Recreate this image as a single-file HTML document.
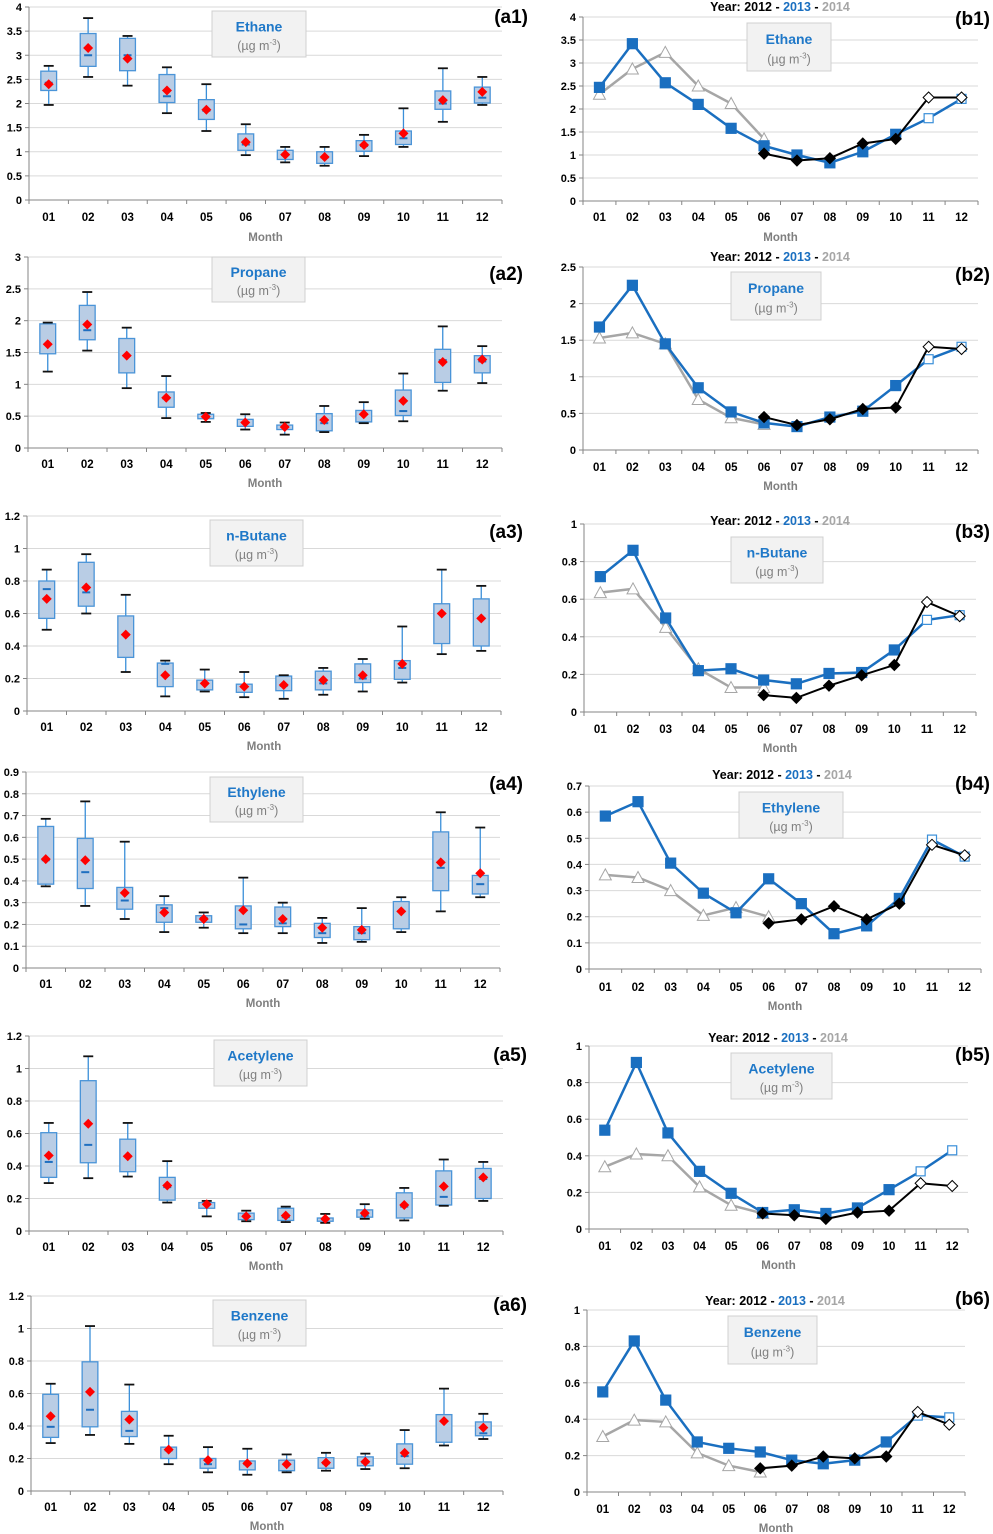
<!DOCTYPE html>
<html><head><meta charset="utf-8">
<style>
html,body{margin:0;padding:0;background:#fff;}
svg{display:block;font-family:"Liberation Sans",Arial,sans-serif;}
</style></head>
<body>
<svg id="fig" width="993" height="1534" viewBox="0 0 993 1534" xmlns="http://www.w3.org/2000/svg"></svg>
<script>
const months = ["01","02","03","04","05","06","07","08","09","10","11","12"];
// box data: [whiskerLow, q1, median, q3, whiskerHigh, mean]
const a1Box = [[1.97,2.27,2.43,2.67,2.78,2.4],[2.55,2.77,3.0,3.45,3.77,3.15],[2.37,2.68,3.0,3.35,3.4,2.93],[1.8,2.02,2.15,2.6,2.75,2.27],[1.43,1.67,1.85,2.08,2.4,1.87],[0.93,1.03,1.15,1.37,1.57,1.2],[0.78,0.84,0.93,1.03,1.1,0.94],[0.71,0.76,0.88,1.0,1.1,0.89],[0.91,1.01,1.12,1.23,1.35,1.14],[1.1,1.15,1.28,1.43,1.9,1.38],[1.62,1.88,2.0,2.26,2.73,2.07],[1.97,2.01,2.12,2.34,2.55,2.24]];
const a2Box = [[1.2,1.48,1.63,1.95,1.97,1.63],[1.53,1.7,1.85,2.24,2.45,1.94],[0.94,1.18,1.45,1.72,1.89,1.45],[0.47,0.64,0.78,0.88,1.13,0.79],[0.41,0.46,0.5,0.53,0.55,0.49],[0.29,0.34,0.4,0.45,0.53,0.4],[0.21,0.29,0.33,0.36,0.4,0.33],[0.25,0.27,0.39,0.54,0.66,0.44],[0.39,0.41,0.53,0.59,0.72,0.53],[0.42,0.51,0.58,0.91,1.17,0.74],[0.9,1.03,1.38,1.55,1.91,1.35],[1.02,1.18,1.36,1.45,1.6,1.39]];
const a3Box = [[0.5,0.57,0.75,0.8,0.87,0.69],[0.6,0.645,0.73,0.915,0.965,0.76],[0.24,0.33,0.47,0.585,0.715,0.47],[0.09,0.15,0.29,0.295,0.31,0.22],[0.12,0.13,0.17,0.19,0.255,0.17],[0.085,0.115,0.15,0.165,0.24,0.15],[0.075,0.125,0.155,0.215,0.22,0.16],[0.1,0.13,0.17,0.245,0.265,0.19],[0.12,0.175,0.2,0.29,0.32,0.22],[0.175,0.195,0.265,0.31,0.52,0.29],[0.35,0.415,0.6,0.66,0.87,0.6],[0.37,0.4,0.57,0.69,0.77,0.57]];
const a4Box = [[0.375,0.385,0.495,0.65,0.685,0.5],[0.285,0.365,0.44,0.595,0.765,0.495],[0.225,0.27,0.31,0.37,0.58,0.345],[0.165,0.21,0.275,0.29,0.33,0.255],[0.185,0.21,0.23,0.24,0.255,0.225],[0.16,0.18,0.2,0.285,0.415,0.265],[0.16,0.19,0.205,0.28,0.3,0.225],[0.115,0.14,0.16,0.205,0.23,0.185],[0.12,0.13,0.16,0.19,0.275,0.175],[0.165,0.18,0.26,0.305,0.325,0.26],[0.26,0.355,0.46,0.625,0.715,0.485],[0.325,0.34,0.385,0.425,0.645,0.435]];
const a5Box = [[0.295,0.33,0.425,0.605,0.665,0.465],[0.325,0.42,0.53,0.925,1.075,0.66],[0.335,0.365,0.46,0.565,0.665,0.46],[0.175,0.19,0.27,0.33,0.43,0.28],[0.09,0.14,0.165,0.175,0.185,0.165],[0.06,0.07,0.095,0.11,0.125,0.09],[0.055,0.065,0.085,0.14,0.15,0.095],[0.05,0.06,0.075,0.08,0.105,0.075],[0.075,0.085,0.095,0.13,0.165,0.11],[0.065,0.08,0.15,0.235,0.265,0.16],[0.155,0.16,0.21,0.37,0.44,0.275],[0.185,0.2,0.32,0.385,0.425,0.33]];
const a6Box = [[0.295,0.33,0.395,0.595,0.66,0.46],[0.345,0.395,0.5,0.795,1.015,0.61],[0.29,0.335,0.37,0.49,0.655,0.44],[0.165,0.2,0.25,0.27,0.34,0.255],[0.115,0.14,0.165,0.2,0.27,0.19],[0.1,0.13,0.165,0.185,0.26,0.17],[0.115,0.125,0.165,0.19,0.225,0.165],[0.125,0.14,0.17,0.205,0.235,0.175],[0.135,0.155,0.175,0.21,0.23,0.18],[0.14,0.165,0.215,0.29,0.375,0.235],[0.28,0.3,0.43,0.47,0.63,0.43],[0.32,0.34,0.355,0.425,0.475,0.39]];
// yearly series (null = no data)
const b1Y2013 = [2.47,3.42,2.57,2.1,1.58,1.2,1.0,0.83,1.07,1.45,1.8,2.22];
const b1Y2014 = [2.32,2.87,3.23,2.5,2.12,1.35,null,null,null,null,null,null];
const b1Y2012 = [null,null,null,null,null,1.03,0.88,0.93,1.25,1.35,2.25,2.25];
const b2Y2013 = [1.68,2.25,1.45,0.85,0.52,0.37,0.32,0.45,0.53,0.88,1.24,1.41];
const b2Y2014 = [1.53,1.6,1.45,0.69,0.44,0.35,null,null,null,null,null,null];
const b2Y2012 = [null,null,null,null,null,0.45,0.34,0.42,0.56,0.58,1.41,1.38];
const b3Y2013 = [0.72,0.86,0.5,0.22,0.23,0.17,0.15,0.205,0.21,0.33,0.49,0.515];
const b3Y2014 = [0.635,0.655,0.45,0.23,0.13,0.13,null,null,null,null,null,null];
const b3Y2012 = [null,null,null,null,null,0.09,0.075,0.14,0.195,0.25,0.585,0.51];
const b4Y2013 = [0.585,0.64,0.405,0.29,0.215,0.345,0.25,0.135,0.165,0.27,0.495,0.43];
const b4Y2014 = [0.36,0.35,0.3,0.205,0.235,0.2,null,null,null,null,null,null];
const b4Y2012 = [null,null,null,null,null,0.175,0.19,0.24,0.19,0.25,0.475,0.435];
const b5Y2013 = [0.54,0.91,0.525,0.315,0.195,0.09,0.105,0.085,0.115,0.215,0.315,0.43];
const b5Y2014 = [0.34,0.41,0.4,0.23,0.13,0.085,null,null,null,null,null,null];
const b5Y2012 = [null,null,null,null,null,0.085,0.075,0.055,0.09,0.1,0.25,0.235];
const b6Y2013 = [0.55,0.83,0.505,0.275,0.24,0.22,0.175,0.155,0.175,0.275,0.42,0.41];
const b6Y2014 = [0.305,0.395,0.385,0.215,0.145,0.11,null,null,null,null,null,null];
const b6Y2012 = [null,null,null,null,null,0.13,0.145,0.195,0.185,0.195,0.44,0.37];
const species = ["Ethane","Propane","n-Butane","Ethylene","Acetylene","Benzene"];
const yMaxes = [4,3,1.2,0.9,1.2,1.2];
const ySteps = [0.5,0.5,0.2,0.1,0.2,0.2];
const bMaxes = [4,2.5,1,0.7,1,1];
const bSteps = [0.5,0.5,0.2,0.1,0.2,0.2];

const NS="http://www.w3.org/2000/svg";
const svg=document.getElementById('fig');
function mk(tag,attrs,parent){const e=document.createElementNS(NS,tag);for(const k in attrs)e.setAttribute(k,attrs[k]);(parent||svg).appendChild(e);return e;}
function txt(s,attrs,parent){const e=mk('text',attrs,parent);e.textContent=s;return e;}

const aLayout=[
 {x0:29,x1:502,yt:7,y0:200,lab:217,mon:237,box:[212,11,94,46],tag:[528,16]},
 {x0:28,x1:502,yt:257,y0:448,lab:464,mon:483,box:[212,257,93,45],tag:[523,273]},
 {x0:27,x1:501,yt:516,y0:711,lab:727,mon:746,box:[210,520,93,46],tag:[523,531]},
 {x0:26,x1:500,yt:772,y0:968,lab:984,mon:1003,box:[210,777,93,45],tag:[523,783]},
 {x0:29,x1:503,yt:1036,y0:1231,lab:1247,mon:1266,box:[214,1040,93,46],tag:[527,1054]},
 {x0:31,x1:503,yt:1296,y0:1491,lab:1507,mon:1526,box:[213,1300,93,46],tag:[527,1304]}
];
const bLayout=[
 {x0:583,x1:978,yt:17,y0:201,lab:217,mon:237,title:[780,7],box:[747,23,84,48],tag:[990,18]},
 {x0:583,x1:978,yt:267,y0:450,lab:467,mon:486,title:[780,257],box:[731,272,90,48],tag:[990,274]},
 {x0:584,x1:976,yt:524,y0:712,lab:729,mon:748,title:[780,521],box:[731,537,92,46],tag:[990,531]},
 {x0:589,x1:981,yt:786,y0:969,lab:987,mon:1006,title:[782,775],box:[739,792,104,46],tag:[990,783]},
 {x0:589,x1:968,yt:1046,y0:1229,lab:1246,mon:1265,title:[778,1038],box:[731,1053,101,46],tag:[990,1054]},
 {x0:587,x1:965,yt:1310,y0:1492,lab:1509,mon:1528,title:[775,1301],box:[728,1316,89,48],tag:[990,1298]}
];
const aBoxes=[a1Box,a2Box,a3Box,a4Box,a5Box,a6Box];
const bSeries=[[b1Y2012,b1Y2013,b1Y2014],[b2Y2012,b2Y2013,b2Y2014],[b3Y2012,b3Y2013,b3Y2014],[b4Y2012,b4Y2013,b4Y2014],[b5Y2012,b5Y2013,b5Y2014],[b6Y2012,b6Y2013,b6Y2014]];

function axes(g,L,max,step){
  const yS=v=>L.y0-(v/max)*(L.y0-L.yt);
  const cw=(L.x1-L.x0)/12;
  const xS=i=>L.x0+cw*(i+0.5);
  const n=Math.round(max/step);
  for(let k=0;k<=n;k++){
    const v=k*step, y=yS(v);
    if(k>0){const gl=mk('line',{x1:L.x0,x2:L.x1,y1:y,y2:y,stroke:'#d9d9d9','stroke-width':1},g);
      
      }
    mk('line',{x1:L.x0-4,x2:L.x0,y1:y,y2:y,stroke:'#868686','stroke-width':1},g);
    const t=txt(String(+v.toFixed(2)),{x:L.x0-7,y:y+4,'text-anchor':'end','font-size':11,'font-weight':'bold',fill:'#000'},g);
    
    
  }
  const ax=mk('line',{x1:L.x0,x2:L.x0,y1:L.yt,y2:L.y0,stroke:'#868686','stroke-width':1},g);
  
  
  const xa=mk('line',{x1:L.x0,x2:L.x1,y1:L.y0,y2:L.y0,stroke:'#868686','stroke-width':1},g);
  
  
  for(let i=0;i<=12;i++){const x=L.x0+cw*i;mk('line',{x1:x,x2:x,y1:L.y0,y2:L.y0+4,stroke:'#868686','stroke-width':1},g);}
  months.forEach((m,i)=>{
    const t=txt(m,{x:xS(i),y:L.lab+4,'text-anchor':'middle','font-size':11.5,'font-weight':'bold',fill:'#000'},g);
    
    
  });
  const mt=txt('Month',{x:(L.x0+L.x1)/2,y:L.mon+4,'text-anchor':'middle','font-size':11.5,'font-weight':'bold',fill:'#7f7f7f'},g);
  
  
  return {xS,yS,cw};
}
function legendBox(g,b,name){
  const lg=mk('g',{},g);
  
  
  mk('rect',{x:b[0],y:b[1],width:b[2],height:b[3],fill:'#f2f2f2',stroke:'#d0d0d0','stroke-width':1},lg);
  txt(name,{x:b[0]+b[2]/2,y:b[1]+b[3]*0.38+3,'text-anchor':'middle','font-size':14,'font-weight':'bold',fill:'#1f78c8'},lg);
  const u=txt('',{x:b[0]+b[2]/2,y:b[1]+b[3]*0.8+2,'text-anchor':'middle','font-size':12.5,fill:'#808080'},lg);
  const t1=mk('tspan',{},u);t1.textContent='(µg m';
  const t2=mk('tspan',{dy:-5,'font-size':8},u);t2.textContent='-3';
  const t3=mk('tspan',{dy:5},u);t3.textContent=')';
}
function tag(g,p,s){
  const t=txt(s,{x:p[0],y:p[1]+7,'text-anchor':'end','font-size':19,'font-weight':'bold',fill:'#000'},g);
  
  
}

// Box panels
aLayout.forEach((L,p)=>{
  const g=mk('g',{});
  
  
  const {xS,yS,cw}=axes(g,L,yMaxes[p],ySteps[p]);
  legendBox(g,L.box,species[p]);
  tag(g,L.tag,'(a'+(p+1)+')');
  aBoxes[p].forEach((d,i)=>{
    const x=xS(i), bw=cw*0.4;
    const bg=mk('g',{},g);
    
    
    mk('line',{x1:x,x2:x,y1:yS(d[4]),y2:yS(d[0]),stroke:'#3a8fd9','stroke-width':1.3},bg);
    mk('rect',{x:x-bw/2,y:yS(d[3]),width:bw,height:Math.max(1,yS(d[1])-yS(d[3])),fill:'#b9cde5',stroke:'#4a94d8','stroke-width':1.3},bg);
    mk('line',{x1:x-5,x2:x+5,y1:yS(d[4]),y2:yS(d[4]),stroke:'#111','stroke-width':1.8},bg);
    mk('line',{x1:x-5,x2:x+5,y1:yS(d[0]),y2:yS(d[0]),stroke:'#111','stroke-width':1.8},bg);
    mk('line',{x1:x-4,x2:x+4,y1:yS(d[2]),y2:yS(d[2]),stroke:'#1f6fc0','stroke-width':2},bg);
    const my=yS(d[5]);
    mk('polygon',{points:`${x},${my-5} ${x+5},${my} ${x},${my+5} ${x-5},${my}`,fill:'#ff0000'},bg);
  });
});

// Line panels
const colors=['#000000','#1a6fc0','#a6a6a6'];
const names=['2012','2013','2014'];
bLayout.forEach((L,p)=>{
  const g=mk('g',{});
  
  
  const {xS,yS}=axes(g,L,bMaxes[p],bSteps[p]);
  const tt=txt('',{x:L.title[0],y:L.title[1]+4,'text-anchor':'middle','font-size':12.5,'font-weight':'bold'},g);
  
  
  [['Year: 2012','#000'],[' - ','#000'],['2013','#1a6fc0'],[' - ','#000'],['2014','#a6a6a6']].forEach(s=>{const ts=mk('tspan',{fill:s[1]},tt);ts.textContent=s[0];});
  tag(g,L.tag,'(b'+(p+1)+')');
  const order=[2,1,0];
  order.forEach(si=>{
    const data=bSeries[p][si];
    const sg=mk('g',{},g);
    
    
    const pts=[];data.forEach((v,i)=>{if(v!==null)pts.push([xS(i),yS(v),i]);});
    mk('polyline',{points:pts.map(q=>q[0]+','+q[1]).join(' '),fill:'none',stroke:colors[si],'stroke-width':si===0?2:2.5},sg);
    pts.forEach(([x,y,i])=>{
      const hollow=i>=10;
      if(si===1){const s=hollow?9:10;mk('rect',{x:x-s/2,y:y-s/2,width:s,height:s,fill:hollow?'#fff':'#1a6fc0',stroke:hollow?'#3a8fd9':'#1a6fc0','stroke-width':1.2},sg);}
      else if(si===2){mk('polygon',{points:`${x},${y-6} ${x+6},${y+5} ${x-6},${y+5}`,fill:'#fff',stroke:'#a6a6a6','stroke-width':1},sg);}
      else{mk('polygon',{points:`${x},${y-5.5} ${x+5.5},${y} ${x},${y+5.5} ${x-5.5},${y}`,fill:hollow?'#fff':'#000',stroke:'#000','stroke-width':1},sg);}
    });
  });
  legendBox(g,L.box,species[p]);
});
</script>
</body></html>
